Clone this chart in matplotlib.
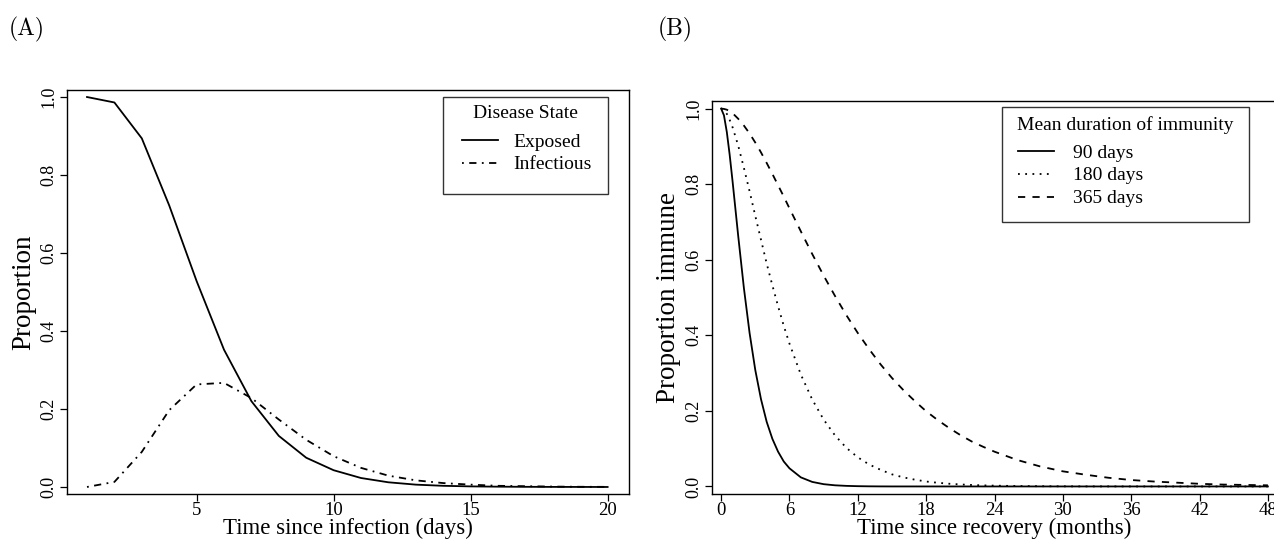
import matplotlib
matplotlib.use("Agg")
import matplotlib.pyplot as plt
from matplotlib.patches import Rectangle

plt.rcParams['font.family'] = ['Liberation Serif', 'DejaVu Serif']

# ---------- data: panel A (days since infection) ---------------------------
days = list(range(1, 21))
exposed = [1.0, 0.986, 0.894, 0.722, 0.528, 0.352, 0.220, 0.131, 0.075, 0.043,
           0.023, 0.012, 0.006, 0.003, 0.0015, 0.0008, 0.0004, 0.0002, 0.0001, 0.0]
infectious = [0.0, 0.013, 0.090, 0.197, 0.263, 0.267, 0.228, 0.173, 0.121, 0.079,
              0.049, 0.029, 0.017, 0.010, 0.006, 0.003, 0.002, 0.001, 0.0005, 0.0003]

# ---------- data: panel B (months since recovery) --------------------------
months = [0, 0.25, 0.5, 0.75, 1, 1.5, 2, 2.5, 3, 3.5, 4, 4.5, 5, 5.5, 6, 7, 8, 9,
          10, 11, 12, 13, 14, 15, 16, 17, 18, 19, 20, 21, 22, 23, 24, 26, 28, 30,
          32, 34, 36, 38, 40, 42, 44, 46, 48]
imm_90 = [1.0, 0.982, 0.938, 0.878, 0.809, 0.663, 0.525, 0.406, 0.308, 0.231,
          0.171, 0.126, 0.092, 0.066, 0.048, 0.024, 0.012, 0.006, 0.003, 0.0015,
          0.0007, 0.0003, 0.0001, 0.0, 0.0, 0.0, 0.0, 0.0, 0.0, 0.0, 0.0, 0.0,
          0.0, 0.0, 0.0, 0.0, 0.0, 0.0, 0.0, 0.0, 0.0, 0.0, 0.0, 0.0, 0.0]
imm_180 = [1.0, 0.996, 0.986, 0.970, 0.951, 0.902, 0.843, 0.781, 0.716, 0.653,
           0.590, 0.532, 0.477, 0.425, 0.378, 0.296, 0.230, 0.177, 0.135, 0.102,
           0.077, 0.058, 0.044, 0.032, 0.024, 0.018, 0.013, 0.0098, 0.0072,
           0.0053, 0.0039, 0.0028, 0.0021, 0.0011, 0.0006, 0.0003, 0.00015,
           0.0001, 0.0, 0.0, 0.0, 0.0, 0.0, 0.0, 0.0]
imm_365 = [1.0, 0.999, 0.997, 0.993, 0.988, 0.973, 0.955, 0.934, 0.910, 0.884,
           0.856, 0.827, 0.797, 0.767, 0.736, 0.675, 0.615, 0.558, 0.504, 0.453,
           0.406, 0.363, 0.323, 0.287, 0.255, 0.226, 0.199, 0.176, 0.155, 0.136,
           0.119, 0.105, 0.092, 0.070, 0.053, 0.040, 0.031, 0.023, 0.017, 0.013,
           0.010, 0.007, 0.005, 0.004, 0.003]

W, H = 1274, 540
LW = 1.3
LEG_FS = 14


def px_axes(left, top, right, bottom):
    return [left / W, 1 - bottom / H, (right - left) / W, (bottom - top) / H]


def fx(x):
    return x / W


def fy(y):
    return 1 - y / H


def style_axes(ax):
    for s in ax.spines.values():
        s.set_linewidth(1.0)
    ax.tick_params(direction='out', length=5, width=0.9, pad=2)
    ax.tick_params(axis='x', labelsize=13.5, pad=1)
    ax.tick_params(axis='y', labelsize=13)
    yt = [0.0, 0.2, 0.4, 0.6, 0.8, 1.0]
    ax.set_yticks(yt)
    ax.set_yticklabels([f"{v:.1f}" for v in yt], rotation=90, va='center')


def boxed_legend(fig, ax, title, box, handle_x, first_row_y, title_y, textpad):
    # R-style legend: square frame, title centred, entries below
    l, t, r, b = box
    fig.patches.append(Rectangle((fx(l), fy(b)), fx(r - l), (b - t) / H,
                                 transform=fig.transFigure, fill=False,
                                 edgecolor='#333333', linewidth=1.0))
    fig.text(fx((l + r) / 2), fy(title_y), title, fontsize=LEG_FS,
             ha='center', va='center')
    leg = ax.legend(loc='upper left', bbox_to_anchor=(fx(handle_x), fy(first_row_y - 9)),
                    bbox_transform=fig.transFigure, frameon=False, fontsize=LEG_FS,
                    handlelength=1.85, handletextpad=textpad, borderpad=0,
                    labelspacing=0.27, borderaxespad=0)
    return leg


fig = plt.figure(figsize=(W / 100, H / 100), dpi=100)

# ---------- panel A ----------------------------------------------------------
axA = fig.add_axes(px_axes(67, 90, 629, 494))
axA.plot(days, exposed, color='black', lw=LW, ls='-', label='Exposed')
axA.plot(days, infectious, color='black', lw=LW, ls=(0, (1, 3, 4, 3)), label='Infectious')
axA.set_xlim(0.27, 20.78)
axA.set_ylim(-0.018, 1.018)
axA.set_xticks([5, 10, 15, 20])
style_axes(axA)
axA.set_xlabel("Time since infection (days)", fontsize=16.5, labelpad=-1)
axA.set_ylabel("Proportion", fontsize=19.5, labelpad=3)
boxed_legend(fig, axA, "Disease State", (443, 97, 608, 194),
             handle_x=462, first_row_y=142, title_y=113, textpad=0.77)

# ---------- panel B ----------------------------------------------------------
axB = fig.add_axes(px_axes(712, 101, 1277, 494))
axB.plot(months, imm_90, color='black', lw=LW, ls='-', label='90 days')
axB.plot(months, imm_180, color='black', lw=LW, ls=(0, (1, 3)), label='180 days')
axB.plot(months, imm_365, color='black', lw=LW, ls=(0, (4, 4)), label='365 days')
axB.set_xlim(-0.8, 48.8)
axB.set_ylim(-0.02, 1.02)
axB.set_xticks(list(range(0, 49, 6)))
style_axes(axB)
axB.set_xlabel("Time since recovery (months)", fontsize=16.5, labelpad=-1)
axB.set_ylabel("Proportion immune", fontsize=19.5, labelpad=3)
boxed_legend(fig, axB, "Mean duration of immunity", (1002, 107, 1249, 222),
             handle_x=1018, first_row_y=153, title_y=125, textpad=0.98)

# panel letters
fig.text(fx(27), fy(29), "(A)", fontsize=17, family='cmr10', ha='center', va='center')
fig.text(fx(675), fy(29), "(B)", fontsize=17, family='cmr10', ha='center', va='center')

fig.savefig("out.png", dpi=100)
